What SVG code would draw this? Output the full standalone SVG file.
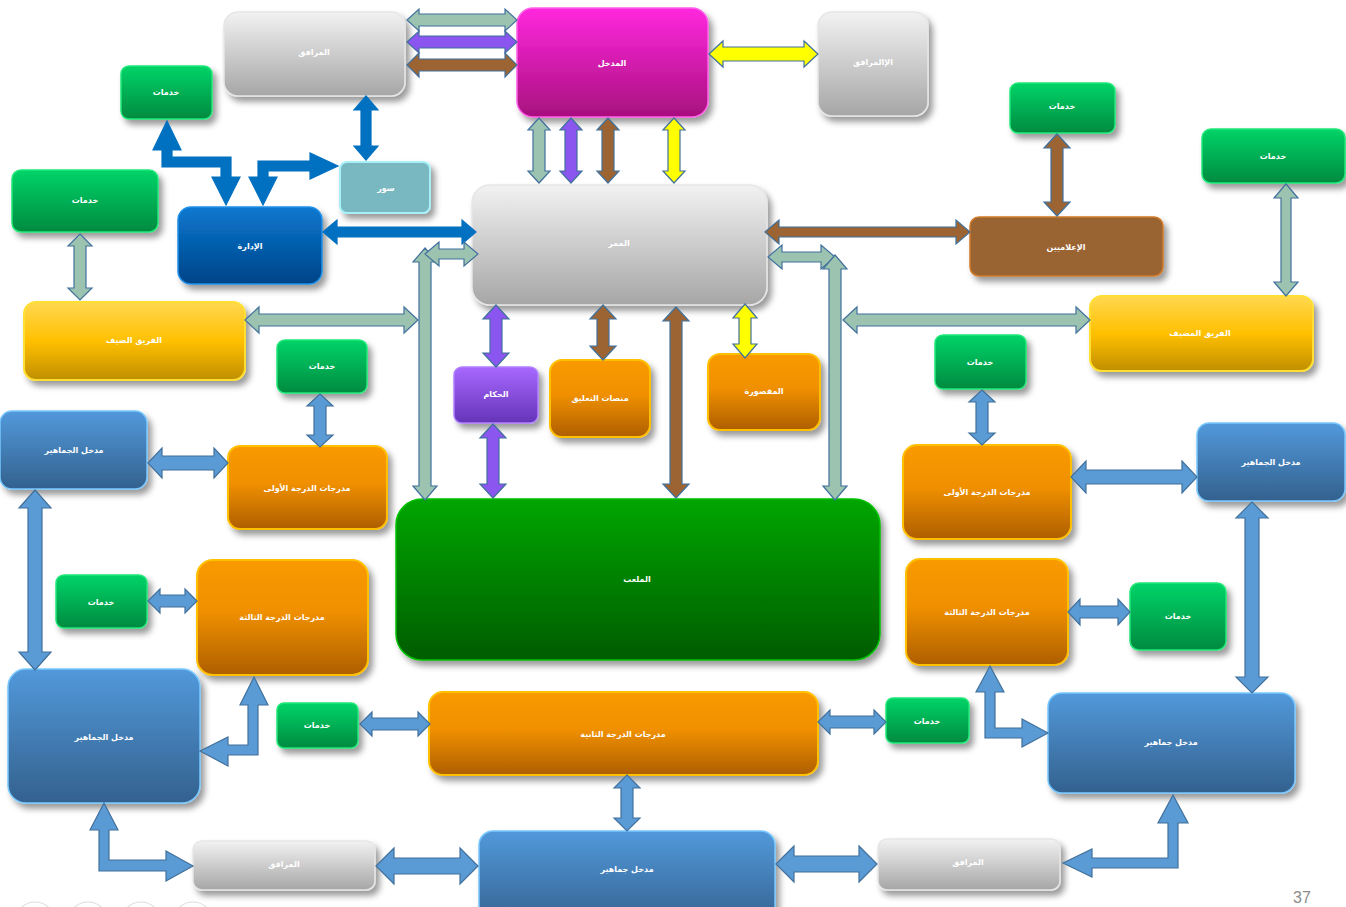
<svg xmlns="http://www.w3.org/2000/svg" width="1346" height="907" viewBox="0 0 1346 907">
<defs>
<linearGradient id="gGray" x1="0" y1="0" x2="0" y2="1"><stop offset="0" stop-color="#F2F2F2"/><stop offset="1" stop-color="#A6A6A6"/></linearGradient>
<linearGradient id="gMag" x1="0" y1="0" x2="0" y2="1"><stop offset="0" stop-color="#FF28DE"/><stop offset="1" stop-color="#A8107E"/></linearGradient>
<linearGradient id="gGreen" x1="0" y1="0" x2="0" y2="1"><stop offset="0" stop-color="#00D468"/><stop offset="1" stop-color="#008A40"/></linearGradient>
<linearGradient id="gDBlue" x1="0" y1="0" x2="0" y2="1"><stop offset="0" stop-color="#0A78D0"/><stop offset="1" stop-color="#004488"/></linearGradient>
<linearGradient id="gYellow" x1="0" y1="0" x2="0" y2="1"><stop offset="0" stop-color="#FFD850"/><stop offset="0.5" stop-color="#FFC000"/><stop offset="1" stop-color="#C08E00"/></linearGradient>
<linearGradient id="gPurple" x1="0" y1="0" x2="0" y2="1"><stop offset="0" stop-color="#A868FF"/><stop offset="1" stop-color="#6434B8"/></linearGradient>
<linearGradient id="gOrange" x1="0" y1="0" x2="0" y2="1"><stop offset="0" stop-color="#F99A00"/><stop offset="0.45" stop-color="#F09000"/><stop offset="1" stop-color="#AE5E00"/></linearGradient>
<linearGradient id="gSteel" x1="0" y1="0" x2="0" y2="1"><stop offset="0" stop-color="#5299DB"/><stop offset="1" stop-color="#33618E"/></linearGradient>
<linearGradient id="gField" x1="0" y1="0" x2="0" y2="1"><stop offset="0" stop-color="#00A600"/><stop offset="1" stop-color="#005C00"/></linearGradient>
<filter id="sh" x="-20%" y="-20%" width="140%" height="150%"><feDropShadow dx="4" dy="5" stdDeviation="3" flood-color="#000" flood-opacity="0.4"/></filter>
<style>
.gray{fill:url(#gGray);stroke:#E6E6E6;stroke-width:1.5;filter:url(#sh)}
.mag{fill:url(#gMag);stroke:#FF60E8;stroke-width:1.5;filter:url(#sh)}
.green{fill:url(#gGreen);stroke:#20E878;stroke-width:1.5;filter:url(#sh)}
.dblue{fill:url(#gDBlue);stroke:#2090E8;stroke-width:1.5;filter:url(#sh)}
.teal{fill:#79B8C0;stroke:#A8F0F8;stroke-width:2;filter:url(#sh)}
.brown{fill:#9A6432;stroke:#D07A2A;stroke-width:1.5;filter:url(#sh)}
.yellow{fill:url(#gYellow);stroke:#FFE030;stroke-width:2;filter:url(#sh)}
.purple{fill:url(#gPurple);stroke:#B080FF;stroke-width:1.5;filter:url(#sh)}
.orange{fill:url(#gOrange);stroke:#FFC000;stroke-width:2;filter:url(#sh)}
.steel{fill:url(#gSteel);stroke:#78C8FF;stroke-width:1.5;filter:url(#sh)}
.field{fill:url(#gField);stroke:#00C000;stroke-width:1.5;filter:url(#sh)}
.t{fill:#FFFFFF;font-family:"DejaVu Sans",sans-serif;font-size:8px;font-weight:bold;text-anchor:middle;dominant-baseline:middle}
.a{stroke:#41719C;stroke-width:1.2;stroke-linejoin:miter}
.aSage{fill:#9CC3B0}
.aPur{fill:#8B55F0}
.aBrn{fill:#9B6432}
.aYel{fill:#FFFF00}
.aBlue{fill:#0070C0;stroke:#0070C0}
.aSteel{fill:#5B9BD5}
</style>
</defs>
<rect width="1346" height="907" fill="#FFFFFF"/>

<g id="nodes">
<g id="n1"><rect class="gray" x="224" y="12" width="181" height="84" rx="14"/><text class="t" x="314" y="52">المرافق</text></g>
<g id="n2"><rect class="mag" x="517" y="8" width="191" height="109" rx="16"/><text class="t" x="612" y="63">المدخل</text></g>
<g id="n3"><rect class="gray" x="818" y="12" width="110" height="104" rx="14"/><text class="t" x="873" y="62">الإالمرافق</text></g>
<g id="n4"><rect class="green" x="121" y="66" width="91" height="53" rx="8"/><text class="t" x="166" y="92">خدمات</text></g>
<g id="n5"><rect class="green" x="12" y="170" width="146" height="62" rx="9"/><text class="t" x="85" y="200">خدمات</text></g>
<g id="n6"><rect class="teal" x="340" y="162" width="90" height="51" rx="7"/><text class="t" x="386" y="188">سور</text></g>
<g id="n7"><rect class="dblue" x="178" y="207" width="144" height="77" rx="13"/><text class="t" x="250" y="246">الإدارة</text></g>
<g id="n8"><rect class="gray" x="472" y="185" width="295" height="120" rx="18"/><text class="t" x="619" y="243">الممر</text></g>
<g id="n9"><rect class="green" x="1010" y="83" width="105" height="50" rx="8"/><text class="t" x="1062" y="106">خدمات</text></g>
<g id="n10"><rect class="green" x="1202" y="129" width="143" height="54" rx="9"/><text class="t" x="1273" y="156">خدمات</text></g>
<g id="n11"><rect class="brown" x="970" y="217" width="193" height="59" rx="9"/><text class="t" x="1066" y="247">الإعلاميين</text></g>
<g id="n12"><rect class="yellow" x="24" y="302" width="221" height="78" rx="12"/><text class="t" x="134" y="340">الفريق الضيف</text></g>
<g id="n13"><rect class="yellow" x="1090" y="296" width="223" height="75" rx="12"/><text class="t" x="1200" y="333">الفريق المضيف</text></g>
<g id="n14"><rect class="green" x="277" y="340" width="90" height="53" rx="8"/><text class="t" x="322" y="366">خدمات</text></g>
<g id="n15"><rect class="purple" x="454" y="367" width="84" height="56" rx="8"/><text class="t" x="496" y="394">الحكام</text></g>
<g id="n16"><rect class="orange" x="550" y="360" width="100" height="77" rx="12"/><text class="t" x="600" y="398">منصات التعليق</text></g>
<g id="n17"><rect class="orange" x="708" y="354" width="112" height="76" rx="12"/><text class="t" x="764" y="391">المقصورة</text></g>
<g id="n18"><rect class="green" x="935" y="335" width="91" height="54" rx="8"/><text class="t" x="980" y="362">خدمات</text></g>
<g id="n19"><rect class="steel" x="0" y="411" width="147" height="78" rx="12"/><text class="t" x="74" y="450">مدخل الجماهير</text></g>
<g id="n20"><rect class="orange" x="228" y="446" width="159" height="83" rx="12"/><text class="t" x="307" y="488">مدرجات الدرجة الأولى</text></g>
<g id="n21"><rect class="orange" x="903" y="445" width="168" height="94" rx="14"/><text class="t" x="987" y="492">مدرجات الدرجة الأولى</text></g>
<g id="n22"><rect class="steel" x="1197" y="423" width="148" height="78" rx="12"/><text class="t" x="1271" y="462">مدخل الجماهير</text></g>
<g id="n23"><rect class="field" x="396" y="499" width="484" height="161" rx="26"/><text class="t" x="637" y="579">الملعب</text></g>
<g id="n24"><rect class="green" x="56" y="575" width="91" height="53" rx="8"/><text class="t" x="101" y="602">خدمات</text></g>
<g id="n25"><rect class="orange" x="197" y="560" width="171" height="115" rx="16"/><text class="t" x="282" y="617">مدرجات الدرجة الثالثة</text></g>
<g id="n26"><rect class="orange" x="906" y="559" width="162" height="106" rx="14"/><text class="t" x="987" y="612">مدرجات الدرجة الثالثة</text></g>
<g id="n27"><rect class="green" x="1130" y="583" width="96" height="67" rx="9"/><text class="t" x="1178" y="616">خدمات</text></g>
<g id="n28"><rect class="steel" x="8" y="669" width="192" height="134" rx="18"/><text class="t" x="104" y="737">مدخل الجماهير</text></g>
<g id="n29"><rect class="green" x="277" y="703" width="81" height="45" rx="7"/><text class="t" x="317" y="725">خدمات</text></g>
<g id="n30"><rect class="orange" x="429" y="692" width="389" height="83" rx="14"/><text class="t" x="623" y="734">مدرجات الدرجة الثانية</text></g>
<g id="n31"><rect class="green" x="886" y="698" width="83" height="45" rx="7"/><text class="t" x="927" y="721">خدمات</text></g>
<g id="n32"><rect class="steel" x="1048" y="693" width="247" height="100" rx="14"/><text class="t" x="1171" y="742">مدخل جماهير</text></g>
<g id="n33"><rect class="gray" x="193" y="841" width="182" height="49" rx="9"/><text class="t" x="284" y="864">المرافق</text></g>
<g id="n34"><rect class="steel" x="479" y="831" width="296" height="96" rx="14"/><text class="t" x="627" y="869">مدخل جماهير</text></g>
<g id="n35"><rect class="gray" x="878" y="839" width="182" height="51" rx="9"/><text class="t" x="968" y="862">المرافق</text></g>
</g>

<g id="connectors">
<path class="a aSage" d="M407 20 L419 9 L419 14 L505 14 L505 9 L517 20 L505 31 L505 26 L419 26 L419 31 Z"/>
<path class="a aPur" d="M407 42 L419 31 L419 36 L505 36 L505 31 L517 42 L505 53 L505 48 L419 48 L419 53 Z"/>
<path class="a aBrn" d="M407 65 L419 53 L419 59 L505 59 L505 53 L517 65 L505 77 L505 71 L419 71 L419 77 Z"/>
<path class="a aYel" d="M709 54 L723 41 L723 47 L804 47 L804 41 L818 54 L804 67 L804 61 L723 61 L723 67 Z"/>
<path class="a aSage" d="M539 118 L550 130 L545 130 L545 171 L550 171 L539 183 L528 171 L533 171 L533 130 L528 130 Z"/>
<path class="a aPur" d="M571 118 L582 130 L577 130 L577 171 L582 171 L571 183 L560 171 L565 171 L565 130 L560 130 Z"/>
<path class="a aBrn" d="M608 118 L619 130 L614 130 L614 171 L619 171 L608 183 L597 171 L602 171 L602 130 L597 130 Z"/>
<path class="a aYel" d="M674 118 L685 130 L680 130 L680 171 L685 171 L674 183 L663 171 L668 171 L668 130 L663 130 Z"/>
<path class="a aBlue" d="M366 96 L378 110 L371 110 L371 146 L378 146 L366 160 L354 146 L361 146 L361 110 L354 110 Z"/>
<path class="a aBlue" d="M167 121 L181 150 L172 150 L172 157 L231 157 L231 177 L240 177 L226 205 L212 177 L221 177 L221 167 L162 167 L162 150 L153 150 Z"/>
<path class="a aBlue" d="M263 205 L249 177 L258 177 L258 161 L310 161 L310 153 L338 166 L310 179 L310 171 L268 171 L268 177 L277 177 Z"/>
<path class="a aBlue" d="M323 232 L337 220 L337 227 L462 227 L462 220 L476 232 L462 244 L462 237 L337 237 L337 244 Z"/>
<path class="a aSage" d="M80 234 L92 246 L86 246 L86 288 L92 288 L80 300 L68 288 L74 288 L74 246 L68 246 Z"/>
<path class="a aSage" d="M245 320 L259 307 L259 314 L404 314 L404 307 L418 320 L404 333 L404 326 L259 326 L259 333 Z"/>
<path class="a aSage" d="M425 248 L437 262 L431 262 L431 486 L437 486 L425 500 L413 486 L419 486 L419 262 L413 262 Z"/>
<path class="a aSage" d="M425 254 L439 242 L439 249 L464 249 L464 242 L478 254 L464 266 L464 259 L439 259 L439 266 Z"/>
<path class="a aBrn" d="M765 232 L779 220 L779 227 L956 227 L956 220 L970 232 L956 244 L956 237 L779 237 L779 244 Z"/>
<path class="a aSage" d="M768 257 L782 245 L782 252 L821 252 L821 245 L835 257 L821 269 L821 262 L782 262 L782 269 Z"/>
<path class="a aSage" d="M835 255 L847 269 L841 269 L841 486 L847 486 L835 500 L823 486 L829 486 L829 269 L823 269 Z"/>
<path class="a aSage" d="M843 320 L857 307 L857 314 L1076 314 L1076 307 L1090 320 L1076 333 L1076 326 L857 326 L857 333 Z"/>
<path class="a aBrn" d="M1057 134 L1070 148 L1063 148 L1063 202 L1070 202 L1057 216 L1044 202 L1051 202 L1051 148 L1044 148 Z"/>
<path class="a aSage" d="M1286 184 L1298 198 L1291 198 L1291 282 L1298 282 L1286 296 L1274 282 L1281 282 L1281 198 L1274 198 Z"/>
<path class="a aPur" d="M496 305 L509 319 L502 319 L502 353 L509 353 L496 367 L483 353 L490 353 L490 319 L483 319 Z"/>
<path class="a aPur" d="M493 424 L506 438 L499 438 L499 484 L506 484 L493 498 L480 484 L487 484 L487 438 L480 438 Z"/>
<path class="a aBrn" d="M603 305 L616 319 L609 319 L609 346 L616 346 L603 360 L590 346 L597 346 L597 319 L590 319 Z"/>
<path class="a aBrn" d="M676 307 L689 321 L682 321 L682 484 L689 484 L676 498 L663 484 L670 484 L670 321 L663 321 Z"/>
<path class="a aYel" d="M745 304 L757 318 L751 318 L751 344 L757 344 L745 358 L733 344 L739 344 L739 318 L733 318 Z"/>
<path class="a aSteel" d="M320 394 L333 406 L326 406 L326 435 L333 435 L320 447 L307 435 L314 435 L314 406 L307 406 Z"/>
<path class="a aSteel" d="M148 463 L162 448 L162 456 L214 456 L214 448 L228 463 L214 478 L214 470 L162 470 L162 478 Z"/>
<path class="a aSteel" d="M35 490 L51 508 L42 508 L42 652 L51 652 L35 670 L19 652 L28 652 L28 508 L19 508 Z"/>
<path class="a aSteel" d="M148 601 L160 589 L160 595 L185 595 L185 589 L197 601 L185 613 L185 607 L160 607 L160 613 Z"/>
<path class="a aSteel" d="M254 677 L268 705 L258 705 L258 755 L228 755 L228 766 L200 751 L228 737 L228 745 L248 745 L248 705 L240 705 Z"/>
<path class="a aSteel" d="M360 724 L372 712 L372 718 L418 718 L418 712 L430 724 L418 736 L418 730 L372 730 L372 736 Z"/>
<path class="a aSteel" d="M627 775 L640 788 L633 788 L633 818 L640 818 L627 831 L614 818 L621 818 L621 788 L614 788 Z"/>
<path class="a aSteel" d="M104 803 L118 830 L109 830 L109 860 L166 860 L166 851 L193 866 L166 881 L166 871 L99 871 L99 830 L90 830 Z"/>
<path class="a aSteel" d="M376 866 L394 848 L394 858 L460 858 L460 848 L478 866 L460 884 L460 874 L394 874 L394 884 Z"/>
<path class="a aSteel" d="M776 864 L794 846 L794 856 L859 856 L859 846 L877 864 L859 882 L859 872 L794 872 L794 882 Z"/>
<path class="a aSteel" d="M1063 863 L1092 849 L1092 858 L1168 858 L1168 823 L1158 823 L1173 795 L1188 823 L1178 823 L1178 868 L1092 868 L1092 877 Z"/>
<path class="a aSteel" d="M818 722 L830 710 L830 716 L874 716 L874 710 L886 722 L874 734 L874 728 L830 728 L830 734 Z"/>
<path class="a aSteel" d="M990 666 L1004 692 L995 692 L995 728 L1022 728 L1022 719 L1048 733 L1022 747 L1022 738 L985 738 L985 692 L976 692 Z"/>
<path class="a aSteel" d="M1068 612 L1080 599 L1080 606 L1118 606 L1118 599 L1130 612 L1118 625 L1118 618 L1080 618 L1080 625 Z"/>
<path class="a aSteel" d="M1071 477 L1086 461 L1086 470 L1182 470 L1182 461 L1197 477 L1182 493 L1182 484 L1086 484 L1086 493 Z"/>
<path class="a aSteel" d="M1252 502 L1268 518 L1259 518 L1259 677 L1268 677 L1252 693 L1236 677 L1245 677 L1245 518 L1236 518 Z"/>
<path class="a aSteel" d="M982 390 L995 402 L988 402 L988 433 L995 433 L982 445 L969 433 L976 433 L976 402 L969 402 Z"/>
</g>

<g id="slide-nav" fill="none" stroke="#DDDDDD" stroke-width="1.2">
<circle cx="35" cy="922" r="20"/>
<circle cx="88" cy="922" r="20"/>
<circle cx="141" cy="922" r="20"/>
<circle cx="193" cy="922" r="20"/>
</g>
<text x="1302" y="903" font-family="Liberation Sans, Arial, sans-serif" font-size="16" fill="#8C8C8C" text-anchor="middle">37</text>
</svg>
